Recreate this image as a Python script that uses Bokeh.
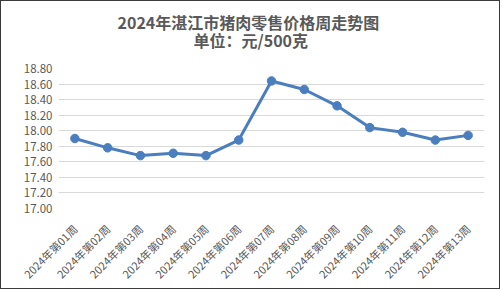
from math import pi
from bokeh.plotting import figure
from bokeh.models import Title, Range1d, FixedTicker, NumeralTickFormatter, ColumnDataSource
from bokeh.embed import file_html
from bokeh.resources import INLINE

weeks = ["2024年第01周", "2024年第02周", "2024年第03周", "2024年第04周", "2024年第05周",
         "2024年第06周", "2024年第07周", "2024年第08周", "2024年第09周", "2024年第10周",
         "2024年第11周", "2024年第12周", "2024年第13周"]
prices = [17.90, 17.78, 17.68, 17.71, 17.68, 17.88, 18.64, 18.53, 18.32, 18.04, 17.98, 17.88, 17.94]
y_ticks = [17.00, 17.20, 17.40, 17.60, 17.80, 18.00, 18.20, 18.40, 18.60, 18.80]
title_line1 = "2024年湛江市猪肉零售价格周走势图"
title_line2 = "单位：元/500克"

CJK = "Noto Sans CJK SC"
GRAY = "#595959"
BLUE = "#4A7EBF"

src = ColumnDataSource(dict(week=weeks, price=prices))

p = figure(x_range=weeks, y_range=Range1d(y_ticks[0], y_ticks[-1]),
           width=500, height=289, output_backend="svg", toolbar_location=None,
           title=None, min_border_left=57, min_border_right=17, min_border_top=67,
           min_border_bottom=82)
p.styles = {"border": "1px solid #3a3a3a"}
p.outline_line_color = None

t2 = Title(text=title_line2, align="left", offset=135, standoff=34, text_font=CJK,
           text_font_size="16px", text_font_style="bold", text_color=GRAY,
           text_line_height=0.8)
t1 = Title(text=title_line1, align="left", offset=59, standoff=-50, text_font=CJK,
           text_font_size="16px", text_font_style="bold", text_color=GRAY,
           text_line_height=0.8)
p.add_layout(t2, "above")
p.add_layout(t1, "above")

p.line("week", "price", source=src, line_color=BLUE, line_width=3)
p.scatter("week", "price", source=src, size=8.5, fill_color=BLUE, line_color=BLUE)

p.yaxis.ticker = FixedTicker(ticks=y_ticks)
p.yaxis.formatter = NumeralTickFormatter(format="0.00")
for ax in (p.xaxis, p.yaxis):
    ax.axis_line_color = None
    ax.major_tick_line_color = None
    ax.minor_tick_line_color = None
    ax.major_label_text_color = GRAY
    ax.major_label_text_font = CJK
p.yaxis.major_label_text_font_size = "11.5px"
p.xaxis.major_label_text_font_size = "11px"
p.yaxis.major_label_standoff = 0
p.xaxis.major_label_orientation = pi / 4
p.xaxis.major_label_standoff = 12
p.xgrid.grid_line_color = None
p.ygrid.grid_line_color = "#d9d9d9"
p.ygrid.grid_line_width = 1

open("out.html", "w").write(file_html(p, INLINE))
